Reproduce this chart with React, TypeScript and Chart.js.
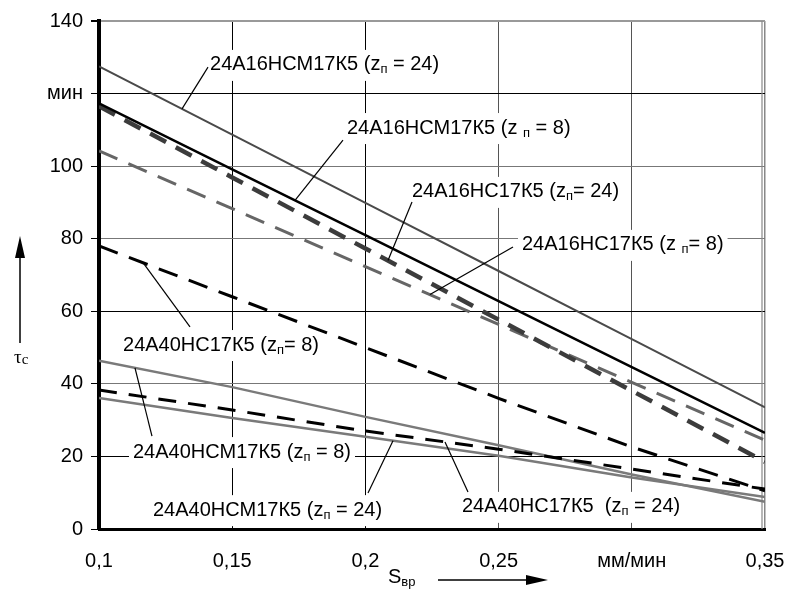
import React, { useEffect, useRef } from "react";
import { Chart, registerables } from "chart.js";

Chart.register(...registerables);

// ---- data ----
const feedRates = [0.1, 0.15, 0.2, 0.25, 0.3, 0.35];
const xTickLabels = ["0,1", "0,15", "0,2", "0,25", "мм/мин", "0,35"];
const yTickLabels = ["0", "20", "40", "60", "80", "100", "мин", "140"];

const hcm16z24 = [127.5, 108.7, 89.9, 71.1, 52.3, 33.5];
const hcm16z8 = [117.3, 99.1, 81.0, 62.8, 44.6, 26.5];
const hc16z24 = [116.5, 96.9, 77.3, 57.7, 38.1, 18.5];
const hc16z8 = [104.2, 88.3, 72.3, 56.4, 40.4, 24.5];
const hc40z8 = [78, 64, 50, 36, 22.6, 10.5];
const hc40z24 = [38.3, 32.8, 27, 22, 16.5, 11];
const hcm40z8 = [46.4, 39.1, 30.9, 23.1, 15, 7.5];
const hcm40z24 = [36.1, 30.6, 25.4, 20.2, 14.2, 8.8];

const FONT = "'Liberation Sans', Arial, sans-serif";
const SERIF = "'Liberation Serif', 'Times New Roman', serif";

type CurveLabel = {
  main: string;
  sub: string;
  rest: string;
  at: [number, number];
  from: [number, number];
  to: [number, number];
};

const curveLabels: CurveLabel[] = [
  { main: "24А16НСМ17К5 (z", sub: "п", rest: " = 24)", at: [0.14167, 127.9], from: [0.14092, 127.3], to: [0.13116, 115.8] },
  { main: "24А16НСМ17К5 (z ", sub: "п", rest: " = 8)", at: [0.19309, 110.5], from: [0.19159, 107.2], to: [0.17357, 90.6] },
  { main: "24А16НС17К5 (z", sub: "п", rest: "= 24)", at: [0.21749, 92.9], from: [0.21749, 90.1], to: [0.20848, 74.0] },
  { main: "24А16НС17К5 (z ", sub: "п", rest: "= 8)", at: [0.25878, 78.3], from: [0.25541, 77.7], to: [0.22425, 64.6] },
  { main: "24А40НС17К5 (z", sub: "п", rest: "= 8)", at: [0.10901, 50.7], from: [0.13416, 55.7], to: [0.11652, 73.4] },
  { main: "24А40НСМ17К5 (z", sub: "п", rest: " = 8)", at: [0.11276, 21.2], from: [0.11989, 25.6], to: [0.11351, 44.4] },
  { main: "24А40НСМ17К5 (z", sub: "п", rest: " = 24)", at: [0.12027, 5.2], from: [0.20098, 9.9], to: [0.21036, 24.3] },
  { main: "24А40НС17К5  (z", sub: "п", rest: " = 24)", at: [0.23626, 6.1], from: [0.23851, 10.2], to: [0.22988, 24.0] },
];

const near = (a: number, b: number) => Math.abs(a - b) < 1e-6;

function labelWidth(ctx: CanvasRenderingContext2D, l: CurveLabel) {
  ctx.font = `20px ${FONT}`;
  let w = ctx.measureText(l.main).width + ctx.measureText(l.rest).width;
  ctx.font = `13px ${FONT}`;
  w += ctx.measureText(l.sub).width;
  return w;
}

const decor = {
  id: "decor",
  beforeDatasetsDraw(chart: any) {
    const ctx: CanvasRenderingContext2D = chart.ctx;
    const xs = chart.scales.x;
    const ys = chart.scales.y;
    ctx.save();
    ctx.fillStyle = "#fff";
    for (const l of curveLabels) {
      const x = xs.getPixelForValue(l.at[0]);
      const y = ys.getPixelForValue(l.at[1]);
      const w = labelWidth(ctx, l);
      ctx.fillRect(x - 4, y - 15, w + 8, 31);
    }
    // double right border
    const a = chart.chartArea;
    ctx.strokeStyle = "#888";
    ctx.lineWidth = 1.2;
    ctx.beginPath();
    ctx.moveTo(a.right - 3, a.top);
    ctx.lineTo(a.right - 3, a.bottom);
    ctx.stroke();
    ctx.restore();
  },
  afterDatasetsDraw(chart: any) {
    const ctx: CanvasRenderingContext2D = chart.ctx;
    const xs = chart.scales.x;
    const ys = chart.scales.y;
    ctx.save();
    ctx.strokeStyle = "#000";
    ctx.lineWidth = 1.2;
    ctx.fillStyle = "#000";
    ctx.textBaseline = "middle";
    ctx.textAlign = "left";
    for (const l of curveLabels) {
      ctx.beginPath();
      ctx.moveTo(xs.getPixelForValue(l.from[0]), ys.getPixelForValue(l.from[1]));
      ctx.lineTo(xs.getPixelForValue(l.to[0]), ys.getPixelForValue(l.to[1]));
      ctx.stroke();
      let x = xs.getPixelForValue(l.at[0]);
      const y = ys.getPixelForValue(l.at[1]);
      ctx.font = `20px ${FONT}`;
      ctx.fillText(l.main, x, y);
      x += ctx.measureText(l.main).width;
      ctx.font = `13px ${FONT}`;
      ctx.fillText(l.sub, x, y + 5);
      x += ctx.measureText(l.sub).width;
      ctx.font = `20px ${FONT}`;
      ctx.fillText(l.rest, x, y);
    }
    ctx.restore();
  },
  afterDraw(chart: any) {
    const ctx: CanvasRenderingContext2D = chart.ctx;
    const a = chart.chartArea;
    ctx.save();
    ctx.fillStyle = "#000";
    ctx.strokeStyle = "#000";
    ctx.textBaseline = "middle";
    ctx.textAlign = "left";
    // x title: S_вр with arrow
    const ty = a.bottom + 48;
    ctx.font = `20px ${FONT}`;
    ctx.fillText("S", 388, ty);
    const sw = ctx.measureText("S").width;
    ctx.font = `13px ${FONT}`;
    ctx.fillText("вр", 388 + sw, ty + 5);
    ctx.lineWidth = 1.5;
    ctx.beginPath();
    ctx.moveTo(438, ty + 3);
    ctx.lineTo(528, ty + 3);
    ctx.stroke();
    ctx.beginPath();
    ctx.moveTo(548, ty + 3);
    ctx.lineTo(526, ty - 2);
    ctx.lineTo(526, ty + 8);
    ctx.closePath();
    ctx.fill();
    // y title: tau_c with arrow
    ctx.beginPath();
    ctx.moveTo(20, 343);
    ctx.lineTo(20, 255);
    ctx.stroke();
    ctx.beginPath();
    ctx.moveTo(20, 236);
    ctx.lineTo(15, 258);
    ctx.lineTo(25, 258);
    ctx.closePath();
    ctx.fill();
    ctx.font = `19px ${SERIF}`;
    ctx.fillText("τ", 14, 358);
    const tw = ctx.measureText("τ").width;
    ctx.font = `15px ${SERIF}`;
    ctx.fillText("c", 14 + tw, 360);
    ctx.restore();
  },
};

function series(values: number[]) {
  return values.map((v, i) => ({ x: feedRates[i], y: v }));
}

export default function App() {
  const canvasRef = useRef<HTMLCanvasElement | null>(null);

  useEffect(() => {
    const canvas = canvasRef.current;
    if (!canvas) return;
    const common = { pointRadius: 0, tension: 0, fill: false, borderCapStyle: "butt" as const };
    const chart = new Chart(canvas, {
      type: "line",
      data: {
        datasets: [
          { ...common, label: "24А16НСМ17К5 zп=8", data: series(hcm16z8), borderColor: "#000", borderWidth: 2.5 },
          { ...common, label: "24А16НСМ17К5 zп=24", data: series(hcm16z24), borderColor: "#4a4a4a", borderWidth: 2 },
          { ...common, label: "24А16НС17К5 zп=24", data: series(hc16z24), borderColor: "#3c3c3c", borderWidth: 4.5, borderDash: [18, 11] },
          { ...common, label: "24А16НС17К5 zп=8", data: series(hc16z8), borderColor: "#666", borderWidth: 3, borderDash: [20, 12] },
          { ...common, label: "24А40НС17К5 zп=8", data: series(hc40z8), borderColor: "#000", borderWidth: 3, borderDash: [20, 12] },
          { ...common, label: "24А40НС17К5 zп=24", data: series(hc40z24), borderColor: "#000", borderWidth: 3, borderDash: [18, 12] },
          { ...common, label: "24А40НСМ17К5 zп=8", data: series(hcm40z8), borderColor: "#7a7a7a", borderWidth: 2.5 },
          { ...common, label: "24А40НСМ17К5 zп=24", data: series(hcm40z24), borderColor: "#7a7a7a", borderWidth: 2.5 },
        ],
      },
      options: {
        animation: false,
        responsive: false,
        devicePixelRatio: 1,
        layout: { padding: { top: 21, right: 25, left: 0, bottom: 0 } },
        plugins: { legend: { display: false }, tooltip: { enabled: false } },
        scales: {
          x: {
            type: "linear",
            min: 0.1,
            max: 0.35,
            afterFit: (s: any) => {
              s.height = 60;
              s.paddingLeft = 0;
              s.paddingRight = 0;
            },
            afterBuildTicks: (s: any) => { s.ticks = feedRates.map((v) => ({ value: v })); },
            border: { display: true, color: "#000", width: 3 },
            grid: {
              drawTicks: false,
              lineWidth: (c: any) => (c.tick && near(c.tick.value, 0.35) ? 1.5 : 1),
              color: (c: any) => {
                const v = c.tick ? c.tick.value : 0;
                if (near(v, 0.35)) return "#888";
                if (near(v, 0.25) || near(v, 0.3)) return "#555";
                return "#000";
              },
            },
            ticks: {
              autoSkip: false,
              maxRotation: 0,
              padding: 20,
              color: "#000",
              font: { family: FONT, size: 20 },
              callback: (_v: any, i: number) => xTickLabels[i],
            },
          },
          y: {
            type: "linear",
            min: 0,
            max: 140,
            afterFit: (s: any) => {
              s.width = 99;
              s.paddingTop = 0;
              s.paddingBottom = 0;
            },
            border: { display: true, color: "#000", width: 4 },
            grid: {
              tickLength: 8,
              tickColor: "#000",
              lineWidth: (c: any) => (c.tick && c.tick.value === 140 ? 2 : 1),
              color: (c: any) => {
                const v = c.tick ? c.tick.value : 0;
                if (v === 140) return "#999";
                if (v === 40 || v === 80 || v === 100) return "#777";
                return "#000";
              },
            },
            ticks: {
              stepSize: 20,
              padding: 8,
              color: "#000",
              font: { family: FONT, size: 20 },
              callback: (_v: any, i: number) => yTickLabels[i],
            },
          },
        },
      },
      plugins: [decor],
    });
    return () => chart.destroy();
  }, []);

  return (
    <div style={{ position: "absolute", left: 0, top: 0, width: 790, height: 589, background: "#fff" }}>
      <canvas ref={canvasRef} width={790} height={589} />
    </div>
  );
}
